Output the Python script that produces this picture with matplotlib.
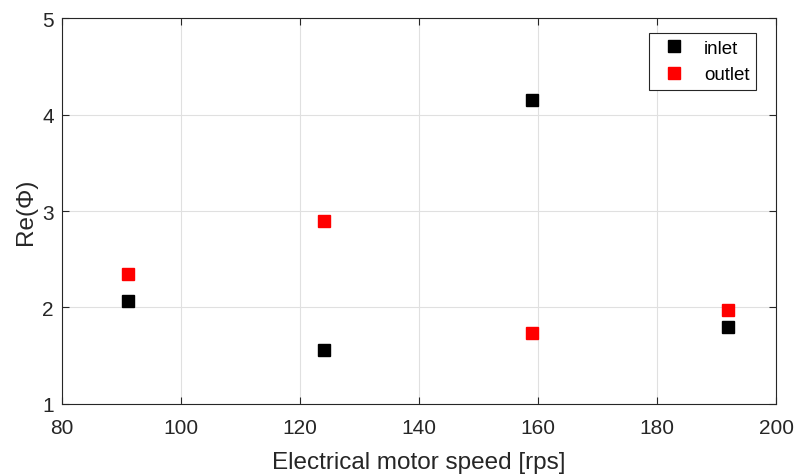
import matplotlib
matplotlib.use('Agg')
import matplotlib.pyplot as plt

plt.rcParams['font.family'] = ['Liberation Sans', 'DejaVu Sans']

# データ
speed = [91, 124, 159, 192]
inlet = [2.07, 1.56, 4.15, 1.80]
outlet = [2.35, 2.90, 1.74, 1.97]

fig = plt.figure(figsize=(7.96, 4.77), dpi=100)
ax = fig.add_axes([0.078, 0.151, 0.897, 0.809])

ax.plot(speed, inlet, 's', color='black', ms=9, label='inlet')
ax.plot(speed, outlet, 's', color='red', ms=9, label='outlet')

ax.set_xlim(80, 200)
ax.set_ylim(1, 5)
ax.set_xticks([80, 100, 120, 140, 160, 180, 200])
ax.set_yticks([1, 2, 3, 4, 5])
ax.grid(True, color='#e0e0e0', lw=0.8)
ax.set_axisbelow(True)
ax.tick_params(direction='in', top=True, right=True, labelsize=15, colors='#262626', length=5)
ax.tick_params(axis='x', pad=10)
ax.tick_params(axis='y', pad=6)
for s in ax.spines.values():
    s.set_color('#262626')
    s.set_linewidth(0.8)

ax.set_xlabel('Electrical motor speed [rps]', fontsize=17.5, color='#262626', labelpad=10)
ax.set_ylabel('Re(\u03a6)', fontsize=17.5, color='#262626', labelpad=4)

leg = ax.legend(loc='upper right', fontsize=13.5, fancybox=False, framealpha=1,
                edgecolor='#262626', handletextpad=0.6, handlelength=2.0,
                borderpad=0.35, labelspacing=0.5,
                bbox_to_anchor=(0.985, 0.985))
leg.get_frame().set_linewidth(0.8)

fig.savefig('out.png', dpi=100)
